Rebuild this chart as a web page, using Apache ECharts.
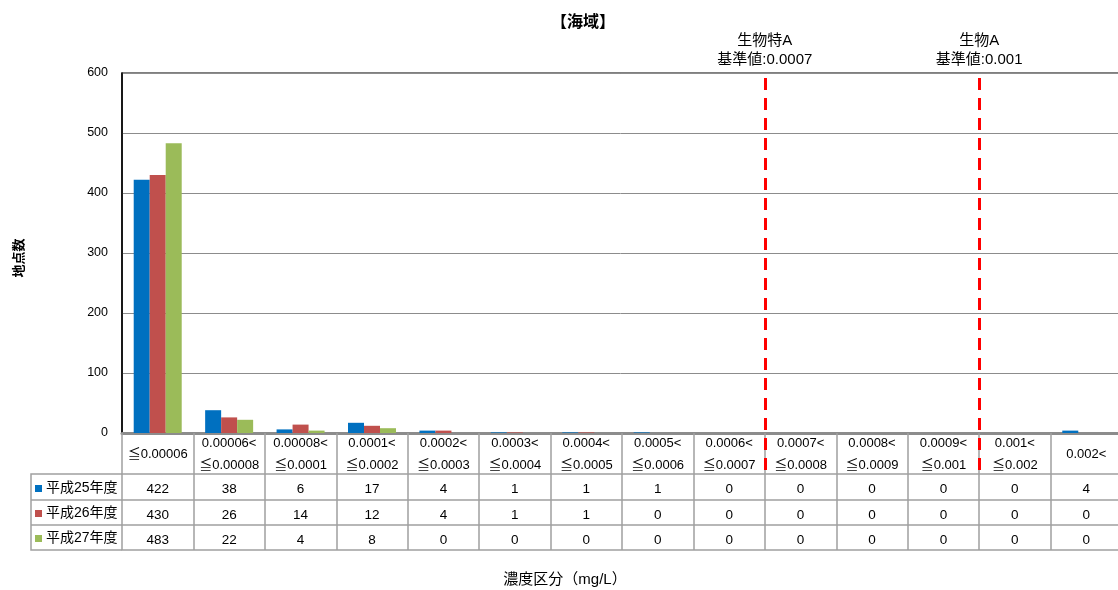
<!DOCTYPE html>
<html>
<head>
<meta charset="utf-8">
<script src="https://cdn.jsdelivr.net/npm/echarts@6/dist/echarts.min.js"></script>
<style>
html,body{margin:0;padding:0;background:#fff;}
#c{width:1118px;height:590px;}
</style>
</head>
<body>
<div id="c"></div>
<script>
var titleText = '【海域】';
var yAxisName = '地点数';
var xAxisName = '濃度区分（mg/L）';
var categories = [
  '≦0.00006',
  '0.00006<\n≦0.00008',
  '0.00008<\n≦0.0001',
  '0.0001<\n≦0.0002',
  '0.0002<\n≦0.0003',
  '0.0003<\n≦0.0004',
  '0.0004<\n≦0.0005',
  '0.0005<\n≦0.0006',
  '0.0006<\n≦0.0007',
  '0.0007<\n≦0.0008',
  '0.0008<\n≦0.0009',
  '0.0009<\n≦0.001',
  '0.001<\n≦0.002',
  '0.002<'
];
var seriesNames = ['平成25年度', '平成26年度', '平成27年度'];
var h25 = [422, 38, 6, 17, 4, 1, 1, 1, 0, 0, 0, 0, 0, 4];
var h26 = [430, 26, 14, 12, 4, 1, 1, 0, 0, 0, 0, 0, 0, 0];
var h27 = [483, 22, 4, 8, 0, 0, 0, 0, 0, 0, 0, 0, 0, 0];
var yTicks = [0, 100, 200, 300, 400, 500, 600];
// thresholds: the line sits after the named category
var thresholds = [
  { label: '生物特A\n基準値:0.0007', after: '0.0006<\n≦0.0007' },
  { label: '生物A\n基準値:0.001', after: '0.0009<\n≦0.001' }
];
</script>
<script>
var colors = ['#0070C0', '#C0504D', '#9BBB59'];
var dataRows = [h25, h26, h27];
var font = '"Liberation Sans", "Noto Sans CJK JP", sans-serif';
var cjkFont = '"Noto Sans CJK JP", sans-serif';
var chart = echarts.init(document.getElementById('c'), null, {renderer: 'canvas'});

var gridLeft = 122, gridTop = 73, gridH = 360;
var nCat = categories.length;
var gridRight = -4;

var rowOffsets = [41, 67, 92];
var rowHeights = [26, 25, 25];

var xAxes = [{
  type: 'category', gridIndex: 0, data: categories, position: 'bottom',
  axisLine: {show: true, lineStyle: {color: '#8c8c8c', width: 3}},
  axisTick: {show: true, length: 41, interval: 0, lineStyle: {color: '#a0a0a0', width: 1.5}},
  axisLabel: {interval: 0, margin: 21, verticalAlign: 'middle', fontSize: 13, lineHeight: 22, color: '#000', fontFamily: font}
}];
dataRows.forEach(function(row, k){
  xAxes.push({
    type: 'category', gridIndex: 0, data: categories, position: 'bottom', offset: rowOffsets[k],
    axisLine: {show: true, lineStyle: {color: '#a0a0a0', width: 1.5}},
    axisTick: {show: true, length: rowHeights[k], interval: 0, lineStyle: {color: '#a0a0a0', width: 1.5}},
    axisLabel: {interval: 0, margin: 15, verticalAlign: 'middle', fontSize: 13.5, color: '#000', fontFamily: font,
      formatter: (function(r){ return function(v, i){ return String(r[i]); }; })(row)}
  });
});
xAxes.push({
  type: 'category', gridIndex: 0, data: categories, position: 'bottom', offset: 117,
  axisLine: {show: true, lineStyle: {color: '#a0a0a0', width: 1.5}},
  axisTick: {show: false}, axisLabel: {show: false},
  name: xAxisName, nameLocation: 'middle', nameGap: 22,
  nameTextStyle: {fontSize: 15, color: '#000', fontFamily: font, padding: [0, 114, 0, 0]}
});
// helper axis for the threshold lines (category boundaries as positions)
xAxes.push({type: 'value', gridIndex: 1, min: 0, max: nCat, show: false});

var series = seriesNames.map(function(n, k){
  return {
    name: n, type: 'bar', xAxisIndex: 0, yAxisIndex: 0, data: dataRows[k],
    barWidth: 16, barGap: '0%', itemStyle: {color: colors[k]}
  };
});
series.push({
  type: 'line', xAxisIndex: xAxes.length - 1, yAxisIndex: 1, data: [], silent: true,
  markLine: {
    silent: true, symbol: ['none', 'none'],
    lineStyle: {color: '#FF0000', type: [12, 8], width: 3},
    label: {show: true, position: 'end', distance: 4, color: '#000', fontSize: 15, lineHeight: 19, fontFamily: font,
      formatter: function(p){ return p.name; }},
    data: thresholds.map(function(t){
      return {name: t.label, xAxis: categories.indexOf(t.after) + 1};
    })
  }
});

chart.setOption({
  animation: false,
  backgroundColor: '#fff',
  title: {text: titleText, left: 578, textAlign: 'center', top: 8,
    textStyle: {fontSize: 16, fontWeight: 'bold', color: '#000', fontFamily: cjkFont}},
  legend: {
    orient: 'vertical', left: 35, top: 481, itemWidth: 7, itemHeight: 7, itemGap: 10,
    icon: 'rect', selectedMode: false, padding: 0,
    textStyle: {fontSize: 14, color: '#000', fontFamily: font, lineHeight: 15, padding: [0, 0, 0, -1]},
    data: seriesNames
  },
  grid: [
    {left: gridLeft, top: gridTop, right: gridRight, height: gridH, outerBoundsMode: 'none', containLabel: false,
     show: true, borderColor: '#000', borderWidth: 1.2},
    {left: gridLeft, top: gridTop, right: gridRight, height: 397, outerBoundsMode: 'none', containLabel: false}
  ],
  xAxis: xAxes,
  yAxis: [{
    type: 'value', gridIndex: 0, min: yTicks[0], max: yTicks[yTicks.length - 1], interval: yTicks[1] - yTicks[0],
    axisLine: {show: true, lineStyle: {color: '#000', width: 1.5}},
    axisTick: {show: false},
    splitLine: {show: true, lineStyle: {color: '#8c8c8c', width: 1}},
    axisLabel: {fontSize: 12.5, color: '#000', margin: 14, fontFamily: font},
    name: yAxisName, nameLocation: 'middle', nameGap: 97,
    nameTextStyle: {fontSize: 13, color: '#000', fontFamily: cjkFont, fontWeight: 'bold', padding: [0, 10, 0, 0]}
  }, {
    type: 'value', gridIndex: 1, min: 0, max: 1, show: false
  }],
  series: series,
  graphic: [{
    type: 'polyline', silent: true,
    shape: {points: [[122, 474], [31, 474], [31, 550], [122, 550]]},
    style: {stroke: '#a0a0a0', lineWidth: 1.5, fill: null}
  }, {
    type: 'line', silent: true, shape: {x1: 31, y1: 500, x2: 122, y2: 500},
    style: {stroke: '#a0a0a0', lineWidth: 1.5}
  }, {
    type: 'line', silent: true, shape: {x1: 31, y1: 525, x2: 122, y2: 525},
    style: {stroke: '#a0a0a0', lineWidth: 1.5}
  }]
});
</script>
</body>
</html>
